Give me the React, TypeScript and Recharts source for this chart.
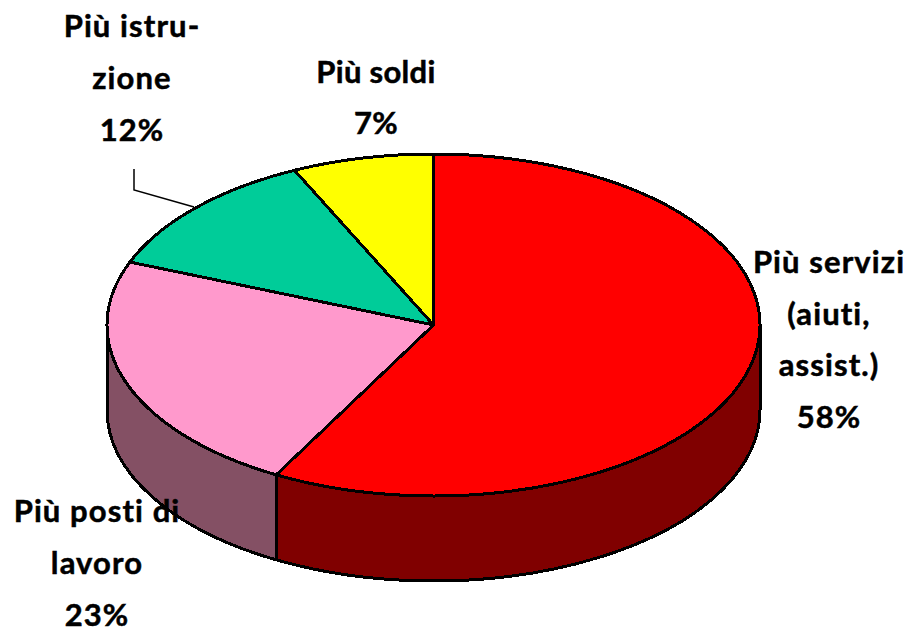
import { Pie, PieChart } from "recharts";

const categories = ["Più servizi", "Più posti di lavoro", "Più istruzione", "Più soldi"];
const values = [58, 23, 12, 7];
const topColors = ["#FF0000", "#FF99CC", "#00CC99", "#FFFF00"];
const wallColors = ["#800000", "#845064", "#006650", "#808000"];
const labelLines = [
  ["Più servizi", "(aiuti,", "assist.)", "58%"],
  ["Più posti di", "lavoro", "23%"],
  ["Più istru-", "zione", "12%"],
  ["Più soldi", "7%"],
];
// label layout: centre x, baseline of first line, line gap, tracking
const labelSpots = [
  { x: 829, y: 273, gap: 51.7, track: 1.1 },
  { x: 97, y: 522, gap: 52, track: 1.1 },
  { x: 132, y: 37, gap: 52, track: 1.1 },
  { x: 376, y: 83, gap: 51, track: 0.3 },
];

const CX = 433.5;
const CY = 325;
const RX = 326.5;
const RY = 171;
const DEPTH = 85;

const data = categories.map((name, i) => ({ name, value: values[i], index: i }));

const pt = (deg: number, dy = 0) => {
  const r = (deg * Math.PI) / 180;
  return `${(CX + RX * Math.cos(r)).toFixed(2)} ${(CY + dy - RY * Math.sin(r)).toFixed(2)}`;
};

// Recharts hands over the slice angles, the ellipse and the side wall are built from those.
function SliceShape(props: any) {
  const { startAngle, endAngle, index } = props;
  const large = Math.abs(startAngle - endAngle) > 180 ? 1 : 0;
  const top = `M ${CX} ${CY} L ${pt(startAngle)} A ${RX} ${RY} 0 ${large} 1 ${pt(endAngle)} Z`;
  const wallFrom = Math.min(startAngle, 0);
  const wallTo = Math.max(endAngle, -180);
  const wall =
    wallFrom > wallTo
      ? `M ${pt(wallFrom)} A ${RX} ${RY} 0 0 1 ${pt(wallTo)} L ${pt(wallTo, DEPTH)} A ${RX} ${RY} 0 0 0 ${pt(wallFrom, DEPTH)} Z`
      : null;
  return (
    <g shapeRendering="crispEdges">
      {wall && <path d={wall} fill={wallColors[index]} stroke="#000" strokeWidth={3} strokeLinejoin="round" />}
      <path d={top} fill={topColors[index]} stroke="#000" strokeWidth={3} strokeLinejoin="round" />
    </g>
  );
}

function SliceLabel(props: any) {
  const { index } = props;
  const spot = labelSpots[index];
  return (
    <g>
      {index === 2 && <polyline points="134,169 134,190 194,207" fill="none" stroke="#000" strokeWidth={1.5} />}
      {labelLines[index].map((line, i) => (
        <text
          key={line}
          x={spot.x}
          y={spot.y + i * spot.gap}
          textAnchor="middle"
          fontFamily="Lato, sans-serif"
          fontWeight={700}
          fontSize={31}
          letterSpacing={spot.track}
          fill="#000"
          stroke="#000"
          strokeWidth={0.5}
        >
          {line}
        </text>
      ))}
    </g>
  );
}

export default function App() {
  return (
    <div style={{ width: 908, height: 629, background: "#fff" }}>
      <style>{"body { margin: 0; }"}</style>
      <PieChart width={908} height={629} margin={{ top: 0, right: 0, bottom: 0, left: 0 }}>
        <Pie
          data={data}
          dataKey="value"
          nameKey="name"
          cx={CX}
          cy={CY}
          outerRadius={RX}
          startAngle={90}
          endAngle={-270}
          stroke="#000"
          shape={SliceShape}
          label={SliceLabel}
          labelLine={false}
          isAnimationActive={false}
        />
      </PieChart>
    </div>
  );
}
